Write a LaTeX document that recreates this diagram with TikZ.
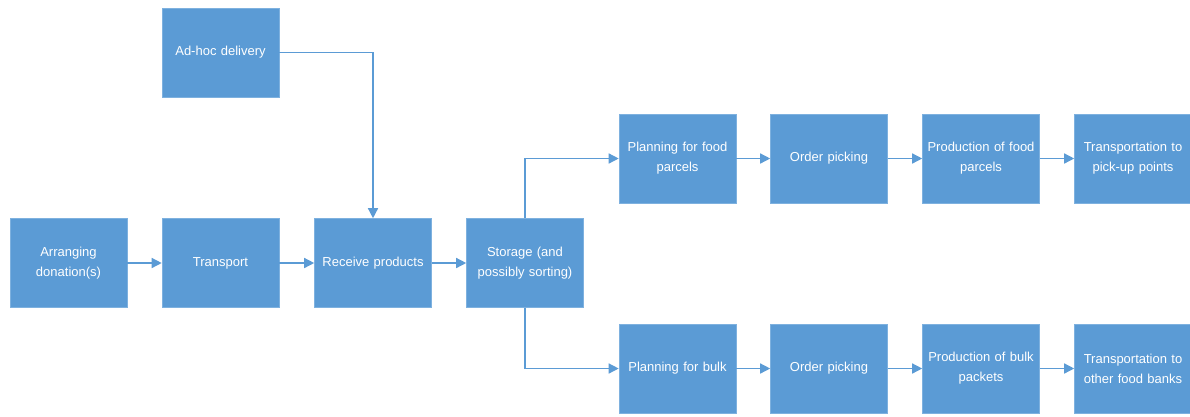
\documentclass[tikz,border=0pt]{standalone}
\usepackage{fontspec}
\setmainfont{Liberation Sans}
\usetikzlibrary{arrows.meta}
\definecolor{boxblue}{HTML}{5B9BD5}
\definecolor{edgeblue}{HTML}{7EB1DF}
\definecolor{lineblue}{HTML}{5B9BD5}
\tikzset{
  pbox/.style={rectangle, fill=boxblue, draw=edgeblue, line width=0.6pt,
    minimum width=117pt, minimum height=89pt, inner sep=2pt,
    text=white, align=center, text width=110pt,
    font=\fontsize{13}{20}\selectfont},
  flow/.style={draw=lineblue, line width=1.4pt,
    -{Triangle[length=10pt,width=10pt]}},
}
\begin{document}
\begin{tikzpicture}[x=1pt,y=-1pt]
\useasboundingbox (0,0) rectangle (1190,416);
\fill[white] (0,0) rectangle (1190,416);
\node[pbox] (arr) at (68.5,263) {Arranging\\donation(s)};
\node[pbox] (trans) at (220.5,263) {Transport};
\node[pbox] (recv) at (373,263) {Receive products};
\node[pbox] (stor) at (525,263) {Storage (and\\possibly sorting)};
\node[pbox] (adhoc) at (220.5,52.5) {Ad-hoc delivery};
\node[pbox] (p1) at (677.5,158.5) {Planning for food\\parcels};
\node[pbox] (op1) at (829,158.5) {Order picking};
\node[pbox] (prod1) at (981,158.5) {Production of food\\parcels};
\node[pbox] (tr1) at (1133,158.5) {Transportation to\\pick-up points};
\node[pbox] (p2) at (677.5,368.5) {Planning for bulk};
\node[pbox] (op2) at (829,368.5) {Order picking};
\node[pbox] (prod2) at (981,368.5) {Production of bulk\\packets};
\node[pbox] (tr2) at (1133,368.5) {Transportation to\\other food banks};
\draw[flow] (arr.east) -- (trans.west);
\draw[flow] (trans.east) -- (recv.west);
\draw[flow] (recv.east) -- (stor.west);
\draw[flow] (adhoc.east) -| (recv.north);
\draw[flow] (stor.north) |- (p1.west);
\draw[flow] (stor.south) |- (p2.west);
\draw[flow] (p1.east) -- (op1.west);
\draw[flow] (op1.east) -- (prod1.west);
\draw[flow] (prod1.east) -- (tr1.west);
\draw[flow] (p2.east) -- (op2.west);
\draw[flow] (op2.east) -- (prod2.west);
\draw[flow] (prod2.east) -- (tr2.west);
\end{tikzpicture}
\end{document}
